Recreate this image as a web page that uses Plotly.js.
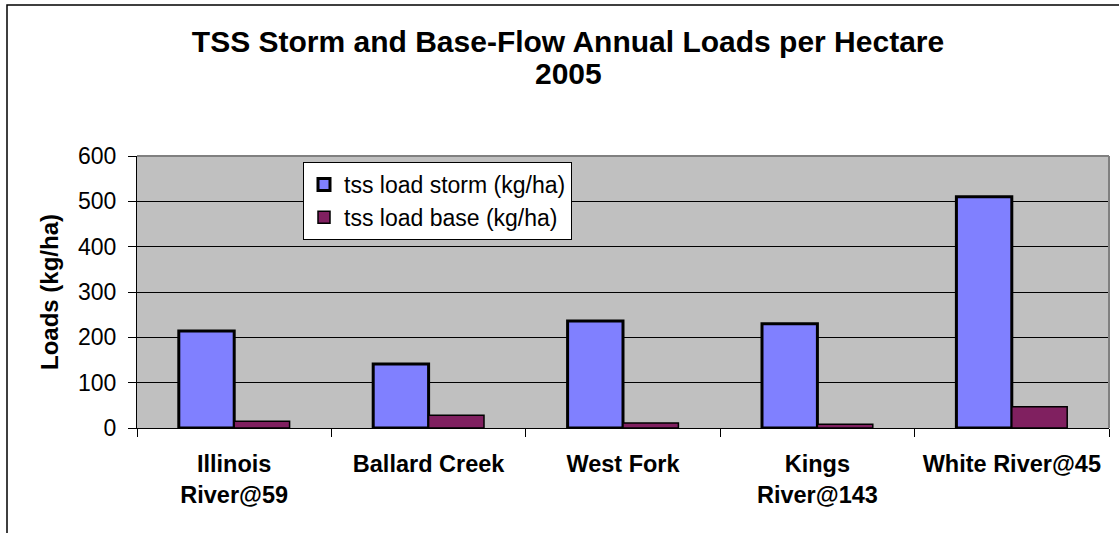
<!DOCTYPE html>
<html>
<head>
<meta charset="utf-8">
<script src="https://cdn.plot.ly/plotly-3.0.1.min.js"></script>
<style>html,body{margin:0;padding:0;background:#fff;}#chart{width:1119px;height:533px;}</style>
</head>
<body>
<div id="chart"></div>
<script>
const categories = ["Illinois<br>River@59", "Ballard Creek", "West Fork", "Kings<br>River@143", "White River@45"];
const stormLoads = [214, 141, 236, 230, 510];
const baseLoads = [15, 28, 11, 8, 47];
const seriesNames = ["tss load storm (kg/ha)", "tss load base (kg/ha)"];
const yTicks = [0, 100, 200, 300, 400, 500, 600];
const titleLine1 = "TSS Storm and Base-Flow Annual Loads per Hectare";
const titleLine2 = "2005";

const FONT = "Arial, 'Liberation Sans', sans-serif";

const traces = [
  {
    type: "bar", x: categories, y: stormLoads, name: seriesNames[0],
    legendgroup: "a",
    marker: {color: "#8080ff", line: {color: "#000000", width: 3}},
    hoverinfo: "none"
  },
  {
    type: "bar", x: categories, y: baseLoads, name: seriesNames[1],
    legendgroup: "b",
    marker: {color: "#802060", line: {color: "#000000", width: 1.5}},
    hoverinfo: "none"
  }
];

const L = 137, R = 1109, T = 156, B = 428;
const W = R - L, H = B - T;
const px = v => (v - L) / W;
const py = v => (B - v) / H;
const TITLE_CX = 568 / 1119;

const layout = {
  width: 1119, height: 533,
  margin: {l: L, r: 1119 - R, t: T, b: 533 - B, pad: 0},
  paper_bgcolor: "#ffffff",
  plot_bgcolor: "#c0c0c0",
  font: {family: FONT, color: "#000000", size: 23},
  title: {
    text: "<b>" + titleLine1 + "</b>",
    font: {family: FONT, size: 30, color: "#000000"},
    x: TITLE_CX, xref: "container", xanchor: "center",
    y: 1 - 31 / 533, yref: "container", yanchor: "top"
  },
  annotations: [
    {text: "<b>" + titleLine2 + "</b>", xref: "paper", yref: "paper", x: px(568), y: py(73),
     xanchor: "center", yanchor: "middle", showarrow: false,
     font: {family: FONT, size: 30, color: "#000000"}}
  ],
  barmode: "group",
  bargap: 0.43,
  bargroupgap: 0,
  showlegend: true,
  legend: {
    x: px(303), y: py(162), xanchor: "left", yanchor: "top",
    bgcolor: "#ffffff", bordercolor: "#000000", borderwidth: 1,
    font: {family: FONT, size: 23, color: "#000000"},
    tracegroupgap: 5,
    traceorder: "normal"
  },
  xaxis: {
    type: "category",
    showgrid: false,
    showline: true, linecolor: "#000000", linewidth: 1,
    ticks: "outside", ticklen: 8, tickcolor: "#000000", tickwidth: 1,
    tickson: "boundaries",
    tickfont: {family: FONT, size: 23.5, color: "#000000", weight: "bold"},
    ticklabelstandoff: 15,
    automargin: false,
    fixedrange: true
  },
  yaxis: {
    range: [0, 600],
    tickvals: yTicks,
    ticktext: yTicks.map(String),
    showgrid: true, gridcolor: "#000000", gridwidth: 1,
    zeroline: false,
    showline: true, linecolor: "#000000", linewidth: 1,
    ticks: "outside", ticklen: 8, tickcolor: "#000000", tickwidth: 1,
    tickfont: {family: FONT, size: 23, color: "#000000"},
    ticklabelstandoff: 7,
    title: {text: "<b>Loads (kg/ha)</b>", font: {family: FONT, size: 24, color: "#000000"}, standoff: 12},
    automargin: false,
    fixedrange: true
  },
  shapes: [
    {type: "line", xref: "paper", yref: "paper", x0: 0, x1: 1, y0: 1, y1: 1, line: {color: "#808080", width: 2}, layer: "above"},
    {type: "line", xref: "paper", yref: "paper", x0: 1, x1: 1, y0: 0, y1: 1, line: {color: "#808080", width: 2}, layer: "above"},
    {type: "rect", xref: "paper", yref: "paper", x0: px(7), x1: px(1130), y0: py(545), y1: py(5), line: {color: "#000000", width: 1.5}, fillcolor: "rgba(0,0,0,0)", layer: "above"}
  ]
};

Plotly.newPlot("chart", traces, layout, {displayModeBar: false, staticPlot: true});
</script>
</body>
</html>
